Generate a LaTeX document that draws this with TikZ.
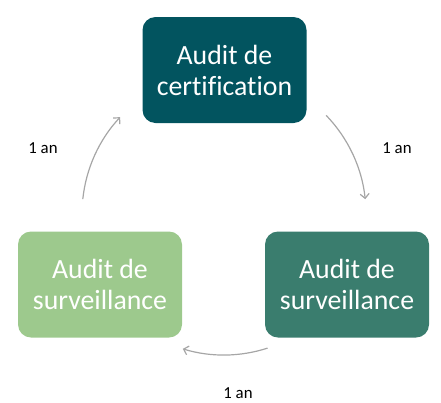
\documentclass[tikz,border=0pt]{standalone}
\usepackage{fontspec}
\setmainfont{Carlito}[Ligatures=NoCommon]
\usetikzlibrary{arrows.meta}
\definecolor{topc}{HTML}{02545F}
\definecolor{rightc}{HTML}{3A7D6E}
\definecolor{leftc}{HTML}{9DC98D}
\definecolor{arrc}{HTML}{A6A6A6}
\begin{document}
\begin{tikzpicture}[x=1pt,y=1pt,
  box/.style={rounded corners=13pt, minimum width=164pt, minimum height=106pt, inner sep=0pt,
    text=white, align=center, font=\fontsize{27.8}{31}\selectfont},
  conn/.style={draw=arrc, line width=1.2pt, -{Straight Barb[length=4.5pt,width=9pt]}},
  lab/.style={font=\fontsize{16.8}{19}\selectfont, text=black}]
\useasboundingbox (0,0) rectangle (441,-402);
\node[box, fill=topc] (top) at (224.5,-70) {Audit de\\certification};
\node[box, fill=rightc] (right) at (347,-284.5) {Audit de\\surveillance};
\node[box, fill=leftc] (left) at (100,-284.5) {Audit de\\surveillance};
\coordinate (C) at (224,-214);
\path (C) ++(44:142) coordinate (r1);
\path (C) ++(174:142) coordinate (l1);
\path (C) ++(-72:141) coordinate (b1);
\draw[conn] (r1) arc[start angle=44, end angle=6, radius=142];
\draw[conn] (l1) arc[start angle=174, end angle=137, radius=142];
\draw[conn] (b1) arc[start angle=-72, end angle=-107, radius=141];
\node[lab] (lab1) at (43,-148) {1 an};
\node[lab] (lab2) at (397,-148) {1 an};
\node[lab] (lab3) at (238,-393) {1 an};
\end{tikzpicture}
\end{document}
